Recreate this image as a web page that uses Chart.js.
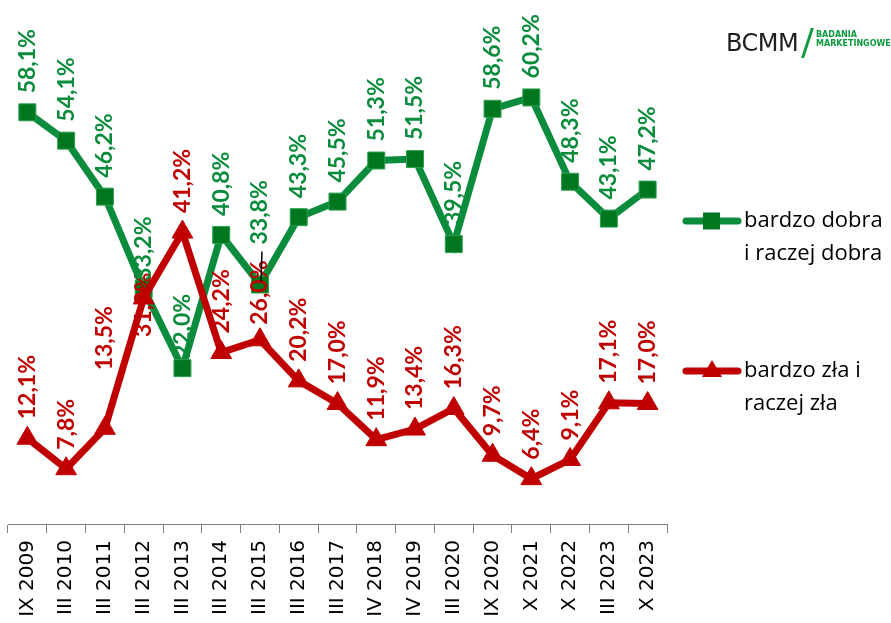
<!DOCTYPE html>
<html>
<head>
<meta charset="utf-8">
<script src="https://cdn.jsdelivr.net/npm/chart.js@4.4.1/dist/chart.umd.min.js"></script>
<style>
  html, body { margin: 0; padding: 0; background: #fff; }
  #wrap { position: relative; width: 891px; height: 623px; overflow: hidden; }
  #logo { position: absolute; left: 726px; top: 28px; height: 30px; }
  #logo .bcmm { position: absolute; left: 0; top: 0; font-family: "DejaVu Sans", sans-serif; font-size: 24px; color: #1e1e1e; letter-spacing: -0.5px; line-height: 30px; }
  #logo .slash { position: absolute; left: 80px; top: 0px; width: 3px; height: 30px; background: #0a9a3c; transform: skewX(-18deg); }
  #logo .sub { position: absolute; left: 90px; top: 2px; font-family: "DejaVu Sans", sans-serif; font-weight: bold; font-size: 8px; line-height: 9px; color: #0a9a3c; white-space: nowrap; }
</style>
</head>
<body>
<div id="wrap">
  <canvas id="c" width="891" height="623"></canvas>
  <div id="logo"><span class="bcmm">BCMM</span><span class="slash"></span><span class="sub">BADANIA<br>MARKETINGOWE</span></div>
</div>
<script>
const categories = ["IX 2009","III 2010","III 2011","III 2012","III 2013","III 2014","III 2015","III 2016","III 2017","IV 2018","IV 2019","III 2020","IX 2020","X 2021","X 2022","III 2023","X 2023"];
const goodValues = [58.1, 54.1, 46.2, 33.2, 22.0, 40.8, 33.8, 43.3, 45.5, 51.3, 51.5, 39.5, 58.6, 60.2, 48.3, 43.1, 47.2];
const badValues  = [12.1, 7.8, 13.5, 31.9, 41.2, 24.2, 26.0, 20.2, 17.0, 11.9, 13.4, 16.3, 9.7, 6.4, 9.1, 17.1, 17.0];
const seriesNames = [["bardzo dobra", "i raczej dobra"], ["bardzo zła i", "raczej zła"]];

const GREEN = '#0a8c3c';
const GREEN_DARK = '#00761e';
const RED = '#c00000';

function fmt(v) { return v.toFixed(1).replace('.', ',') + '%'; }

const labelPlugin = {
  id: 'rotLabels',
  afterDatasetsDraw(chart, args, opts) {
    const ctx = chart.ctx;
    ctx.save();
    ctx.font = 'bold 23px Lato, "Open Sans", sans-serif';
    ctx.textBaseline = 'middle';
    ctx.textAlign = 'left';
    chart.data.datasets.forEach((ds, di) => {
      const meta = chart.getDatasetMeta(di);
      const special = (opts.special && opts.special[ds.key]) || {};
      meta.data.forEach((pt, i) => {
        const off = (special[i] !== undefined) ? special[i] : opts.offset;
        ctx.save();
        ctx.translate(pt.x, pt.y - off);
        ctx.rotate(-Math.PI / 2);
        ctx.fillStyle = ds.labelColor;
        ctx.fillText(fmt(ds.data[i]), 0, 0);
        ctx.restore();
      });
    });
    if (opts.leader) {
      const meta = chart.getDatasetMeta(opts.leader.ds);
      const pt = meta.data[opts.leader.index];
      ctx.strokeStyle = '#000';
      ctx.lineWidth = 1.5;
      ctx.beginPath();
      ctx.moveTo(pt.x + 2, pt.y - 33);
      ctx.lineTo(pt.x + 1, pt.y - 3);
      ctx.stroke();
    }
    ctx.restore();
  }
};

const legendPlugin = {
  id: 'sideLegend',
  afterDraw(chart) {
    const ctx = chart.ctx;
    ctx.save();
    const items = [
      { y: 221, color: GREEN, fill: GREEN_DARK, shape: 'rect', text: seriesNames[0] },
      { y: 371, color: RED, fill: RED, shape: 'triangle', text: seriesNames[1] }
    ];
    items.forEach(it => {
      ctx.strokeStyle = it.color;
      ctx.lineWidth = 7;
      ctx.lineCap = 'round';
      ctx.beginPath();
      ctx.moveTo(686, it.y);
      ctx.lineTo(738, it.y);
      ctx.stroke();
      ctx.fillStyle = it.fill;
      if (it.shape === 'rect') {
        ctx.fillRect(703, it.y - 8.5, 17, 17);
      } else {
        ctx.beginPath();
        ctx.moveTo(712, it.y - 11);
        ctx.lineTo(722, it.y + 6);
        ctx.lineTo(702, it.y + 6);
        ctx.closePath();
        ctx.fill();
      }
      ctx.fillStyle = '#000';
      ctx.font = '22px "Open Sans", sans-serif';
      ctx.textBaseline = 'middle';
      ctx.textAlign = 'left';
      it.text.forEach((t, k) => ctx.fillText(t, 744, it.y + k * 33));
    });
    ctx.restore();
  }
};

new Chart(document.getElementById('c'), {
  type: 'line',
  data: {
    labels: categories,
    datasets: [
      {
        key: 'bad',
        label: 'bardzo zła i raczej zła',
        data: badValues,
        borderColor: RED,
        backgroundColor: RED,
        labelColor: RED,
        borderWidth: 7,
        pointStyle: 'triangle',
        pointRadius: 12,
        pointBackgroundColor: RED,
        pointBorderColor: RED,
        pointBorderWidth: 1,
        tension: 0,
        order: 0
      },
      {
        key: 'good',
        label: 'bardzo dobra i raczej dobra',
        data: goodValues,
        borderColor: GREEN,
        backgroundColor: GREEN_DARK,
        labelColor: GREEN,
        borderWidth: 7,
        pointStyle: 'rect',
        pointRadius: 12,
        pointBackgroundColor: GREEN_DARK,
        pointBorderColor: '#2aa050',
        pointBorderWidth: 1,
        tension: 0,
        order: 1
      }
    ]
  },
  options: {
    responsive: false,
    animation: false,
    devicePixelRatio: 1,
    layout: { autoPadding: false, padding: { left: 8, right: 224, top: 28, bottom: 0 } },
    plugins: {
      legend: { display: false },
      tooltip: { enabled: false },
      rotLabels: {
        offset: 19,
        special: {
          good: { 3: 8, 4: 10, 6: 40 },
          bad: { 2: 58, 3: -39, 6: 15 }
        },
        leader: { ds: 1, index: 6 }
      }
    },
    scales: {
      y: { display: false, min: 0, max: 70 },
      x: {
        offset: true,
        grid: { display: true, offset: true, drawOnChartArea: false, drawTicks: true, tickLength: 9, color: '#808080', lineWidth: 1 },
        border: { display: true, color: '#808080', width: 1 },
        ticks: {
          autoSkip: false,
          minRotation: 90,
          maxRotation: 90,
          padding: 7,
          color: '#000',
          font: { family: '"DejaVu Sans", sans-serif', size: 20 }
        },
        afterFit(s) { s.height = 99; s.paddingLeft = 0; s.paddingRight = 0; }
      }
    }
  },
  plugins: [labelPlugin, legendPlugin]
});
</script>
</body>
</html>
